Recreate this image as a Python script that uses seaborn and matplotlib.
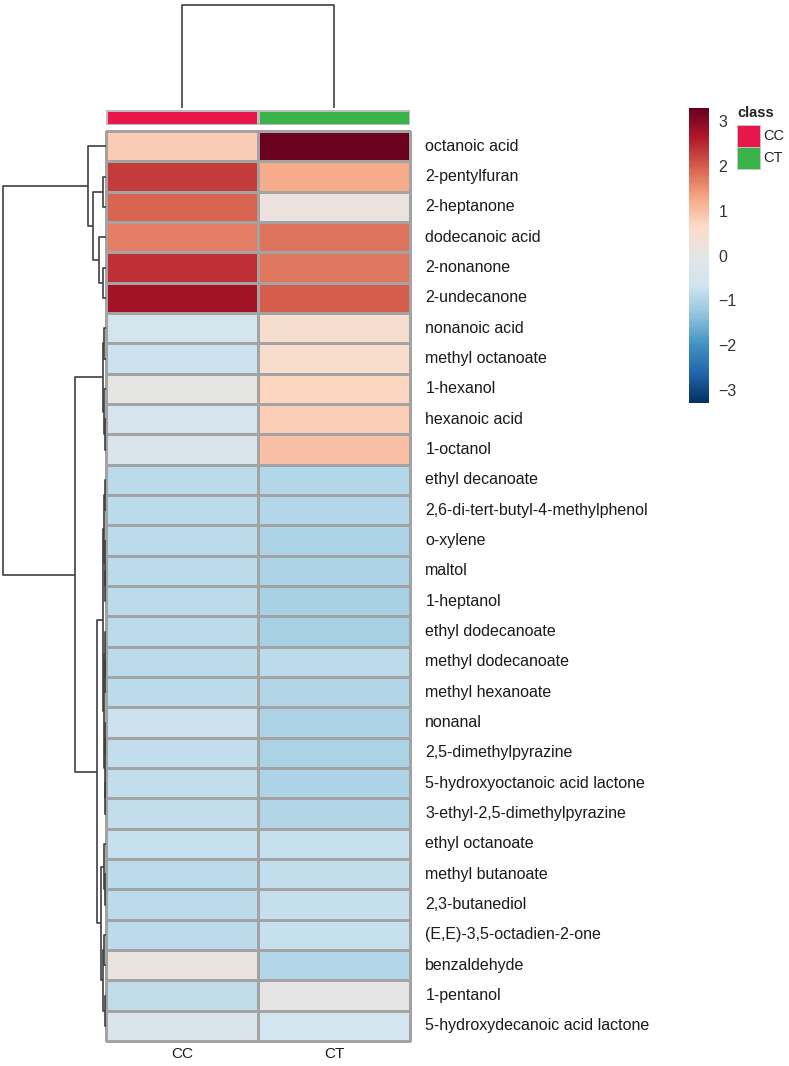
import numpy as np
import pandas as pd
import matplotlib
matplotlib.use("Agg")
import matplotlib.pyplot as plt
import seaborn as sns
from matplotlib.colors import LinearSegmentedColormap, ListedColormap
from matplotlib.patches import Rectangle

# ---------------- data ----------------
compounds = [
    "octanoic acid", "2-pentylfuran", "2-heptanone", "dodecanoic acid", "2-nonanone",
    "2-undecanone", "nonanoic acid", "methyl octanoate", "1-hexanol", "hexanoic acid",
    "1-octanol", "ethyl decanoate", "2,6-di-tert-butyl-4-methylphenol", "o-xylene", "maltol",
    "1-heptanol", "ethyl dodecanoate", "methyl dodecanoate", "methyl hexanoate", "nonanal",
    "2,5-dimethylpyrazine", "5-hydroxyoctanoic acid lactone", "3-ethyl-2,5-dimethylpyrazine",
    "ethyl octanoate", "methyl butanoate", "2,3-butanediol", "(E,E)-3,5-octadien-2-one",
    "benzaldehyde", "1-pentanol", "5-hydroxydecanoic acid lactone",
]
groups = ["CC", "CT"]
cc_values = [0.85, 2.32, 1.93, 1.68, 2.40, 2.77, -0.55, -0.70, 0.00, -0.50,
             -0.35, -0.90, -0.90, -0.88, -0.88, -0.88, -0.88, -0.88, -0.88, -0.72,
             -0.82, -0.82, -0.82, -0.75, -0.88, -0.88, -0.90, 0.12, -0.83, -0.35]
ct_values = [3.27, 1.22, 0.18, 1.78, 1.77, 2.00, 0.47, 0.55, 0.73, 0.80,
             0.99, -0.97, -0.97, -1.05, -1.05, -1.07, -1.07, -0.90, -1.00, -1.05,
             -1.05, -1.03, -1.00, -0.76, -0.80, -0.78, -0.76, -0.97, -0.02, -0.60]
class_labels = ["CC", "CT"]
class_colors = ["#E8174B", "#3AB34A"]
cbar_ticks = [-3, -2, -1, 0, 1, 2, 3]

# dendrogram trees: [left, right, merge height]
row_tree = [
    [0, [[1, 2, 3], [3, [4, 5, 3], 7], 13], 18],
    [
        [[6, 7, 1.5], [8, [9, 10, 1], 2], 2.5],
        [
            [[[11, 12, 0.8], [13, [14, 15, 0.6], 1], 1.5],
             [[16, [17, 18, 0.6], 1.2], [[19, 20, 0.8], [21, 22, 0.5], 1.3], 1.8], 3],
            [[23, [24, 25, 1], 2], [[26, 27, 1.5], [28, 29, 1.2], 2.5], 5],
            9,
        ],
        31,
    ],
    103,
]
col_tree = [0, 1, 1.0]

# ---------------- style ----------------
sns.set_style("white")
plt.rcParams["font.family"] = ["Liberation Sans", "DejaVu Sans"]

cmap = LinearSegmentedColormap.from_list(
    "rdbu_grey",
    ["#053061", "#2166AC", "#4393C3", "#92C5DE", "#D1E5F0", "#E5E5E5",
     "#FDDBC7", "#F4A582", "#D6604D", "#B2182B", "#67001F"], N=256)
VMAX = 3.3
GRID = "#a3a3a3"
DEND = "#404040"

W, H = 789, 1066
fig = plt.figure(figsize=(W / 100, H / 100), dpi=100)


def ax_px(x0, y0, x1, y1):
    return fig.add_axes([x0 / W, 1 - y1 / H, (x1 - x0) / W, (y1 - y0) / H])


hm_ax = ax_px(106, 131, 410, 1041)
ann_ax = ax_px(106, 110, 410, 125)
rden_ax = ax_px(3, 131, 106, 1041)
cden_ax = ax_px(106, 5, 410, 108)
cbar_ax = ax_px(689, 108, 709, 403)

df = pd.DataFrame({groups[0]: cc_values, groups[1]: ct_values}, index=compounds)

sns.heatmap(df, ax=hm_ax, cmap=cmap, vmin=-VMAX, vmax=VMAX,
            linewidths=0.75, linecolor=GRID, cbar_ax=cbar_ax,
            cbar_kws={"ticks": cbar_ticks})
for c in hm_ax.collections:
    c.set_clip_on(False)
hm_ax.yaxis.tick_right()
hm_ax.set_yticks(np.arange(len(compounds)) + 0.5)
hm_ax.set_yticklabels(compounds, rotation=0, fontsize=11.5, color="#1a1a1a")
hm_ax.set_xticklabels(groups, fontsize=11, color="#1a1a1a")
hm_ax.tick_params(axis="y", length=0, pad=11)
hm_ax.tick_params(axis="x", length=0, pad=4)
hm_ax.set_xlabel("")
hm_ax.set_ylabel("")
for t in hm_ax.get_yticklabels():
    t.set_va("center")

# annotation bar
ann = pd.DataFrame([[0, 1]], columns=class_labels)
sns.heatmap(ann, ax=ann_ax, cmap=ListedColormap(class_colors), vmin=-0.5, vmax=1.5,
            cbar=False, linewidths=0.75, linecolor="#bdbdbd")
ann_ax.set_xticks([])
ann_ax.set_yticks([])
ann_ax.set_xlabel("")
ann_ax.set_ylabel("")

# colorbar
cbar = hm_ax.collections[0].colorbar
cbar.outline.set_visible(False)
cbar.ax.tick_params(length=0, pad=7, labelsize=11.5, labelcolor="#333333")


# dendrograms
def tree_segments(node, pos_of_leaf, segs):
    if isinstance(node, int):
        return pos_of_leaf(node), 0.0
    left, right, h = node
    pl, hl = tree_segments(left, pos_of_leaf, segs)
    pr, hr = tree_segments(right, pos_of_leaf, segs)
    segs.append(([pl, pl, pr, pr], [hl, h, h, hr]))
    return (pl + pr) / 2.0, h


segs = []
tree_segments(row_tree, lambda i: i + 0.5, segs)
for pos, hts in segs:
    rden_ax.plot(hts, pos, color=DEND, lw=1.2, clip_on=False, solid_capstyle="butt")
rden_ax.set_xlim(row_tree[2], 0)
rden_ax.set_ylim(len(compounds), 0)
rden_ax.axis("off")

segs = []
tree_segments(col_tree, lambda i: i + 0.5, segs)
for pos, hts in segs:
    cden_ax.plot(pos, hts, color=DEND, lw=1.2, clip_on=False, solid_capstyle="butt")
cden_ax.set_xlim(0, len(groups))
cden_ax.set_ylim(0, col_tree[2])
cden_ax.axis("off")

# class legend
fig.text(737 / W, 1 - 113 / H, "class", fontsize=10.5, fontweight="bold",
         va="center", ha="left", color="#222222")
for k, (lab, col) in enumerate(zip(class_labels, class_colors)):
    y0 = 125 + k * 22
    fig.patches.append(Rectangle((737 / W, 1 - (y0 + 22) / H), 23 / W, 22 / H,
                                 transform=fig.transFigure, facecolor=col,
                                 edgecolor="#c8c8c8", lw=0.6))
    fig.text(763 / W, 1 - (y0 + 11) / H, lab, fontsize=10.5, va="center", ha="left",
             color="#222222")

fig.savefig("out.png", dpi=100)
